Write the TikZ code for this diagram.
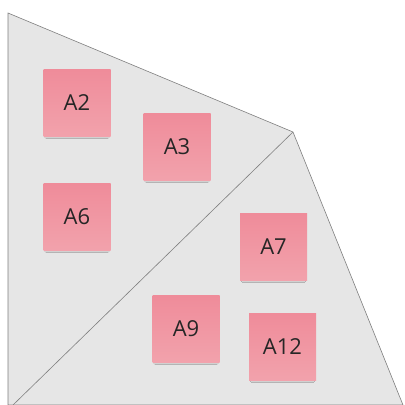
\documentclass[tikz,border=0pt]{standalone}
\usepackage{fontspec}
\setmainfont{Open Sans}
\usetikzlibrary{shadows.blur}
\definecolor{stickytop}{HTML}{EF8C9A}
\definecolor{stickybot}{HTML}{F2A2AC}
\definecolor{areagray}{HTML}{E6E6E6}
\definecolor{edgegray}{HTML}{7F7F7F}
\tikzset{
  sticky/.style={minimum size=67pt, inner sep=0pt, top color=stickytop, bottom color=stickybot,
    font=\fontsize{22}{22}\selectfont, text=black!85,
    blur shadow={shadow xshift=0pt, shadow yshift=-3pt, shadow opacity=40, shadow scale=0.92}},
  area/.style={fill=areagray, draw=edgegray, line width=0.6pt}
}
\begin{document}
\begin{tikzpicture}[x=1pt,y=-1pt]
        \useasboundingbox (0,0) rectangle (405,405);
        %% areas
        \coordinate (tl) at (8,13);
        \coordinate (tip) at (293,132);
        \coordinate (br) at (403,405);
        \coordinate (bl) at (8,405);
        \coordinate (cut) at (13,405);
        \draw[area] (tl) -- (tip) -- (br) -- (bl) -- cycle;
        \draw[edgegray, line width=0.6pt] (tip) -- (cut);
        %% sticky notes
        \node[sticky] (a2) at (77,103) {A2};
        \node[sticky] (a3) at (177,147) {A3};
        \node[sticky] (a6) at (77,217) {A6};
        \node[sticky] (a7) at (273.5,247) {A7};
        \node[sticky] (a9) at (186,329) {A9};
        \node[sticky] (a12) at (282.5,347) {A12};
    \end{tikzpicture}
\end{document}
